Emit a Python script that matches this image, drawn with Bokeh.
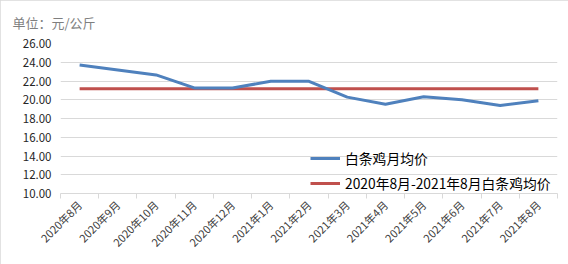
from bokeh.plotting import figure
from bokeh.models import Range1d, FixedTicker, Legend, LegendItem, ColumnDataSource
from bokeh.embed import file_html
from bokeh.resources import INLINE
import math

months = ["2020年8月", "2020年9月", "2020年10月", "2020年11月", "2020年12月",
          "2021年1月", "2021年2月", "2021年3月", "2021年4月", "2021年5月",
          "2021年6月", "2021年7月", "2021年8月"]
monthly_avg = [23.70, 23.18, 22.65, 21.26, 21.26, 21.97, 21.97,
               20.28, 19.53, 20.32, 20.00, 19.39, 19.90]
period_avg = [21.17] * len(months)
y_ticks = [10, 12, 14, 16, 18, 20, 22, 24, 26]
series_names = ["白条鸡月均价", "2020年8月-2021年8月白条鸡均价"]
unit_text = "单位：元/公斤"

FONT = "Noto Sans CJK SC"
idx = list(range(len(months)))

p = figure(width=568, height=264, output_backend="svg", toolbar_location=None,
           x_range=Range1d(-0.5, len(months) - 0.5), y_range=Range1d(10, 26),
           min_border_left=60, min_border_right=11, min_border_top=43, min_border_bottom=71,
           title=unit_text)
p.outline_line_color = None
p.background_fill_color = "white"
p.border_fill_color = "white"
p.styles = {"outline": "1px solid #d9d9d9", "outline-offset": "-1px"}

p.title.text_font = FONT
p.title.text_font_size = "13px"
p.title.text_font_style = "normal"
p.title.text_color = "#7f7f7f"
p.title.align = "left"
p.title.offset = -48
p.title.standoff = 19
p.title.vertical_align = "top"

src = ColumnDataSource(dict(x=idx, m=monthly_avg, a=period_avg))
r_avg = p.line("x", "a", source=src, line_color="#c0504d", line_width=3)
r_m = p.line("x", "m", source=src, line_color="#4f81bd", line_width=3)

# axes
xa = p.xaxis[0]
xa.ticker = FixedTicker(ticks=idx, minor_ticks=[i - 0.5 for i in range(len(months) + 1)])
xa.major_label_overrides = {i: m for i, m in enumerate(months)}
xa.major_label_orientation = math.pi / 4
xa.major_tick_out = 0
xa.major_tick_in = 0
xa.minor_tick_out = 5
xa.minor_tick_in = 0
xa.minor_tick_line_color = "#d9d9d9"
xa.axis_line_color = "#d9d9d9"
xa.major_label_text_font = FONT
xa.major_label_text_font_size = "11px"
xa.major_label_text_color = "#404040"
xa.major_label_standoff = 4

ya = p.yaxis[0]
ya.ticker = FixedTicker(ticks=y_ticks)
ya.major_label_overrides = {t: f"{t:.2f}" for t in y_ticks}
ya.axis_line_color = None
ya.major_tick_line_color = None
ya.minor_tick_line_color = None
ya.major_label_standoff = 3
ya.major_label_text_font = FONT
ya.major_label_text_font_size = "11.5px"
ya.major_label_text_color = "#262626"

p.xgrid.grid_line_color = None
p.ygrid.grid_line_color = "#d9d9d9"
p.ygrid.ticker = FixedTicker(ticks=y_ticks)

legend = Legend(items=[LegendItem(label=series_names[0], renderers=[r_m]),
                       LegendItem(label=series_names[1], renderers=[r_avg])],
                location=(250, 0), orientation="vertical")
legend.background_fill_alpha = 0
legend.border_line_color = None
legend.padding = 0
legend.margin = 0
legend.spacing = 5
legend.glyph_width = 30
legend.glyph_height = 16
legend.label_height = 16
legend.label_standoff = 5
legend.label_text_font = FONT
legend.label_text_font_size = "13.8px"
legend.label_text_color = "#000000"
p.add_layout(legend, "center")

open("out.html", "w").write(file_html(p, INLINE))
